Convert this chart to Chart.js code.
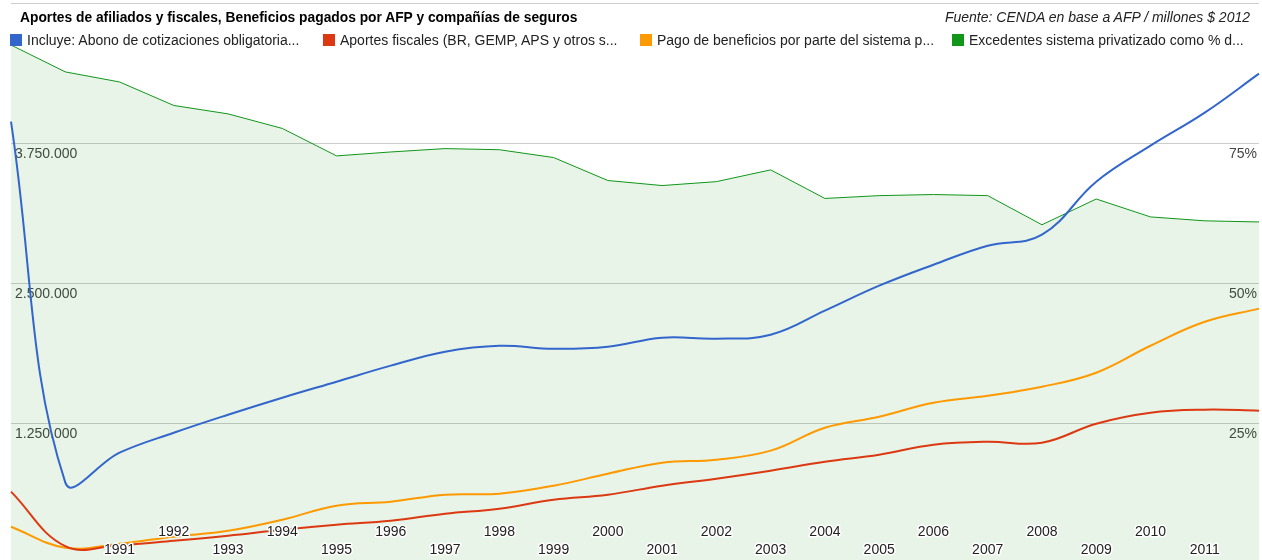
<!DOCTYPE html>
<html>
<head>
<meta charset="utf-8">
<script src="https://cdn.jsdelivr.net/npm/chart.js@4.4.1/dist/chart.umd.min.js"></script>
<style>
  html, body { margin: 0; padding: 0; background: #fff; overflow: hidden; }
  #wrap { position: relative; width: 1262px; height: 560px; overflow: hidden; }
  #c { position: absolute; left: 0; top: 0; }
  .txt { position: absolute; font-family: Arial, "Liberation Sans", sans-serif; font-size: 14px; color: #222; white-space: nowrap; }
  #titulo { left: 20px; top: 10px; font-size: 13.8px; font-weight: bold; color: #000; }
  #fuente { right: 12px; top: 9px; font-style: italic; color: #222; }
  #leyenda { left: 10px; top: 32px; }
  .item { position: absolute; top: 0; }
  .item i { display: inline-block; width: 12px; height: 12px; vertical-align: -1px; margin-right: 5px; }
</style>
</head>
<body>
<div id="wrap">
  <canvas id="c" width="1262" height="580"></canvas>
  <div class="txt" id="titulo">Aportes de afiliados y fiscales, Beneficios pagados por AFP y compañías de seguros</div>
  <div class="txt" id="fuente">Fuente: CENDA en base a AFP / millones $ 2012</div>
  <div class="txt" id="leyenda"></div>
</div>
<script>
// años del eje x (solo 1991-2011 llevan etiqueta)
var anios = [1989, 1990, 1991, 1992, 1993, 1994, 1995, 1996, 1997, 1998, 1999, 2000,
             2001, 2002, 2003, 2004, 2005, 2006, 2007, 2008, 2009, 2010, 2011, 2012];
var aniosConEtiqueta = [1991, 1992, 1993, 1994, 1995, 1996, 1997, 1998, 1999, 2000,
                        2001, 2002, 2003, 2004, 2005, 2006, 2007, 2008, 2009, 2010, 2011];

var etiquetasSeries = [
    'Incluye: Abono de cotizaciones obligatoria...',
    'Aportes fiscales (BR, GEMP, APS y otros s...',
    'Pago de beneficios por parte del sistema p...',
    'Excedentes sistema privatizado como % d...'
];
var coloresSeries = ['#3366cc', '#dc3912', '#ff9900', '#109618'];

// millones $ 2012 (eje izquierdo)
var abonoCotizaciones = [3940000, 720000, 985000, 1163000, 1324000, 1476000, 1619000, 1762000,
                         1887000, 1940000, 1913000, 1931000, 2012000, 2003000, 2038000, 2253000,
                         2476000, 2663000, 2833000, 2931000, 3404000, 3726000, 4021000, 4369000];
var aportesFiscales = [637000, 150000, 160000, 199000, 244000, 297000, 342000, 378000,
                       440000, 485000, 565000, 610000, 690000, 753000, 824000, 904000,
                       967000, 1056000, 1083000, 1074000, 1244000, 1342000, 1369000, 1360000];
var pagoBeneficios = [324000, 137000, 172000, 235000, 288000, 387000, 512000, 547000,
                      610000, 619000, 690000, 797000, 896000, 922000, 1003000, 1208000,
                      1306000, 1431000, 1494000, 1574000, 1699000, 1940000, 2154000, 2271000];
// % (eje derecho)
var excedentesPct = [92.5, 87.7, 85.9, 81.7, 80.2, 77.6, 72.7, 73.4, 74.0, 73.8, 72.4, 68.3,
                     67.4, 68.1, 70.2, 65.1, 65.6, 65.8, 65.6, 60.4, 65.0, 61.8, 61.1, 60.9];

var ticksIzq = [0, 1250000, 2500000, 3750000, 5000000];
var ticksDer = [0, 25, 50, 75, 100];

function formatoMiles(v) {
    return String(v).replace(/\B(?=(\d{3})+(?!\d))/g, '.');
}

// leyenda
var leyenda = document.getElementById('leyenda');
var posLeyenda = [0, 313, 630, 942];
etiquetasSeries.forEach(function (txt, i) {
    var d = document.createElement('div');
    d.className = 'item';
    d.style.left = posLeyenda[i] + 'px';
    d.innerHTML = '<i style="background:' + coloresSeries[i] + '"></i>' + txt;
    leyenda.appendChild(d);
});

var etiquetasAnios = {
    id: 'etiquetasAnios',
    afterDatasetsDraw: function (chart) {
        var ctx = chart.ctx;
        var x = chart.scales.x;
        var abajo = chart.chartArea.bottom;
        ctx.save();
        ctx.font = '14px Arial, "Liberation Sans", sans-serif';
        ctx.textAlign = 'center';
        ctx.textBaseline = 'middle';
        ctx.lineJoin = 'round';
        aniosConEtiqueta.forEach(function (a) {
            var px = x.getPixelForValue(anios.indexOf(a));
            var py = (a % 2 === 0) ? abajo - 31 : abajo - 13;
            ctx.strokeStyle = '#fff';
            ctx.lineWidth = 3;
            ctx.strokeText(String(a), px, py);
            ctx.fillStyle = '#222';
            ctx.fillText(String(a), px, py);
        });
        ctx.restore();
    }
};

// los ejes espejados no deben quitar espacio al área del gráfico
function sinEspacio(s) {
    s.width = 0;
    s.paddingTop = 0;
    s.paddingBottom = 0;
}

new Chart(document.getElementById('c'), {
    type: 'line',
    data: {
        labels: anios,
        datasets: [
            { label: etiquetasSeries[0], data: abonoCotizaciones, yAxisID: 'y', borderColor: coloresSeries[0], borderWidth: 2, tension: 0.4, pointRadius: 0, fill: false },
            { label: etiquetasSeries[1], data: aportesFiscales, yAxisID: 'y', borderColor: coloresSeries[1], borderWidth: 2, tension: 0.4, pointRadius: 0, fill: false },
            { label: etiquetasSeries[2], data: pagoBeneficios, yAxisID: 'y', borderColor: coloresSeries[2], borderWidth: 2, tension: 0.4, pointRadius: 0, fill: false },
            { label: etiquetasSeries[3], data: excedentesPct, yAxisID: 'y1', borderColor: coloresSeries[3], backgroundColor: 'rgba(16,150,24,0.1)', borderWidth: 1, tension: 0, pointRadius: 0, fill: 'origin' }
        ]
    },
    options: {
        responsive: false,
        animation: false,
        devicePixelRatio: 1,
        layout: { padding: { left: 11, right: 3, top: 3, bottom: 17 } },
        plugins: { legend: { display: false }, tooltip: { enabled: false } },
        scales: {
            x: { display: false, offset: false },
            y: {
                position: 'left', min: 0, max: 5000000, z: 1,
                afterBuildTicks: function (s) { s.ticks = ticksIzq.map(function (v) { return { value: v }; }); },
                afterFit: sinEspacio,
                grid: { color: '#cccccc', drawTicks: false },
                border: { display: false },
                ticks: {
                    mirror: true, padding: 4, labelOffset: 11,
                    font: { family: 'Arial, "Liberation Sans", sans-serif', size: 14 },
                    color: '#444', textStrokeColor: '#fff', textStrokeWidth: 3,
                    callback: function (v) { return (v === 0 || v === 5000000) ? '' : formatoMiles(v); }
                }
            },
            y1: {
                position: 'right', min: 0, max: 100, z: 1,
                afterBuildTicks: function (s) { s.ticks = ticksDer.map(function (v) { return { value: v }; }); },
                afterFit: sinEspacio,
                grid: { display: false, drawTicks: false },
                border: { display: false },
                ticks: {
                    mirror: true, padding: -2, labelOffset: 11,
                    font: { family: 'Arial, "Liberation Sans", sans-serif', size: 14 },
                    color: '#444', textStrokeColor: '#fff', textStrokeWidth: 3,
                    callback: function (v) { return (v === 0 || v === 100) ? '' : v + '%'; }
                }
            }
        }
    },
    plugins: [etiquetasAnios]
});
</script>
</body>
</html>
